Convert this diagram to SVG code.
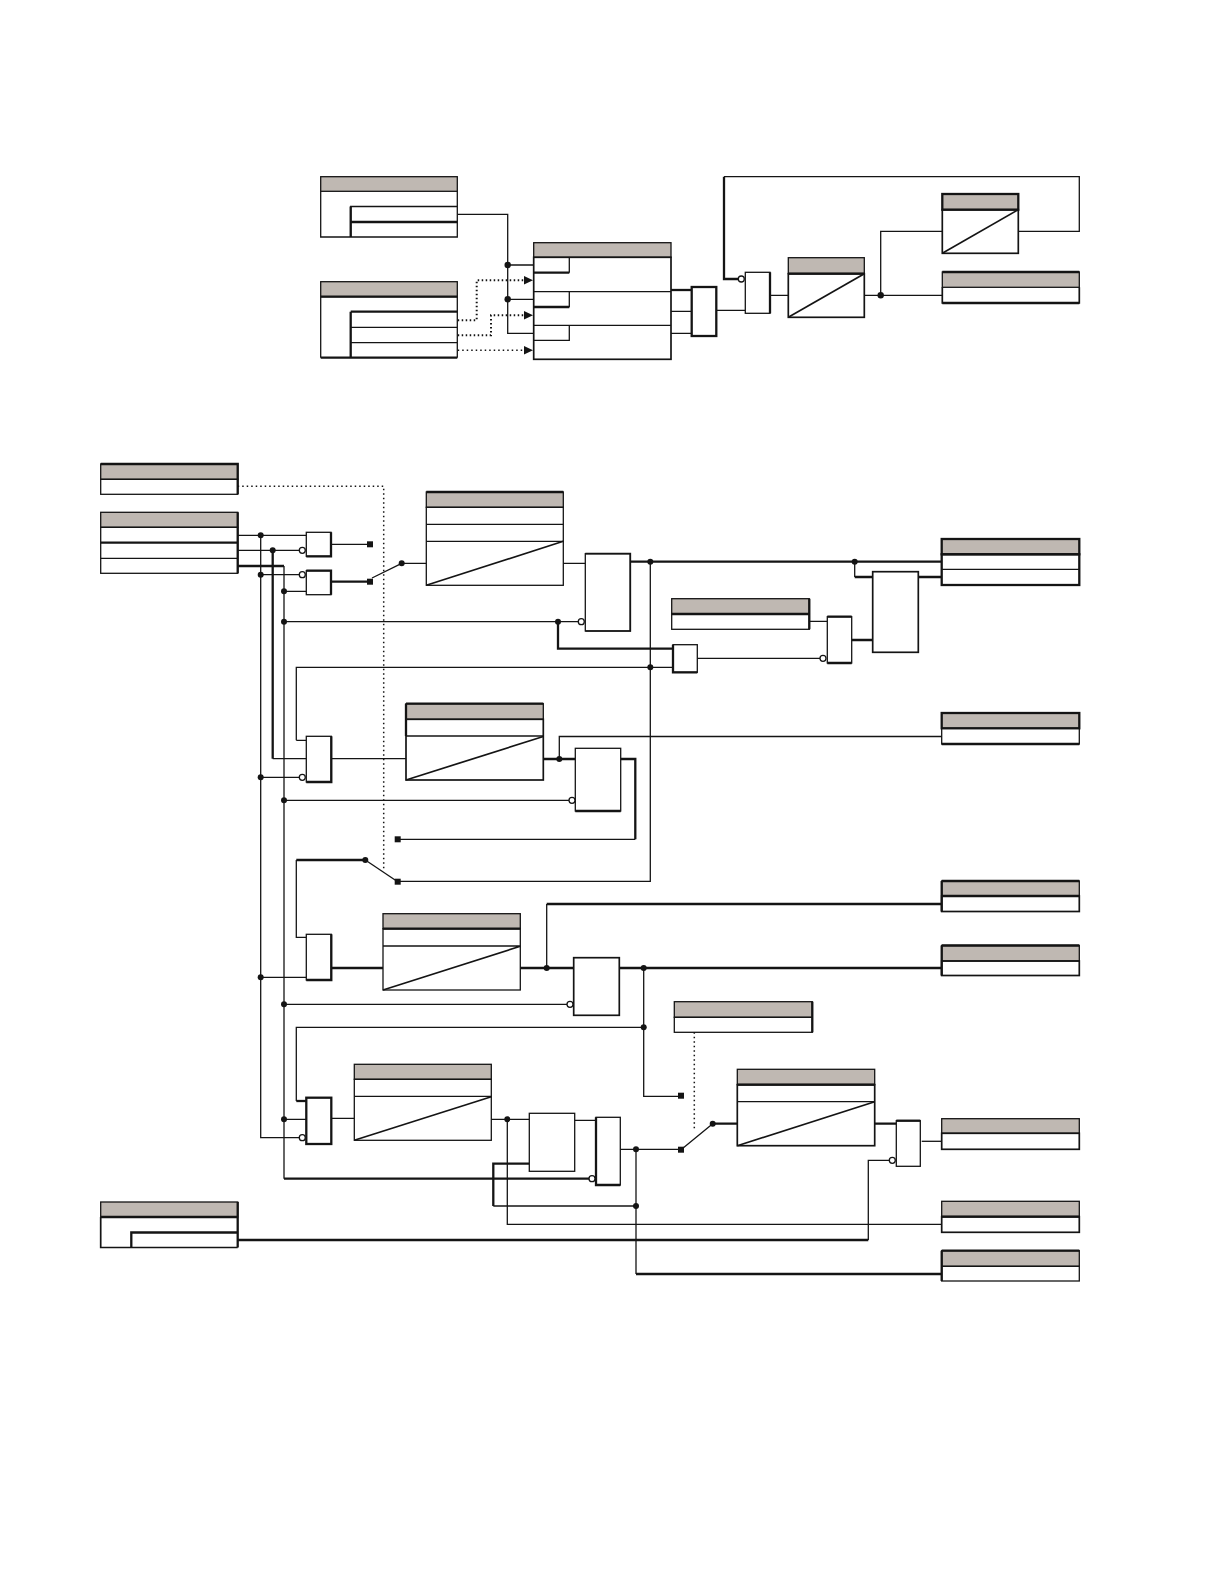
<svg xmlns="http://www.w3.org/2000/svg" width="1224" height="1584" viewBox="0 0 1224 1584">
<style>
.n rect,.n path,.c path{fill:none;stroke:#141414;stroke-width:1.3}
.n rect.b{fill:#fff}
.n rect.h{fill:#bfb8b2;stroke:#141414}
.n .k,.c .k{stroke-width:2.3}
.n .m{stroke-width:1.7}
.c .d{stroke-dasharray:1.5 3;stroke-width:1.5}
.c .e{stroke-dasharray:1.5 2.5;stroke-width:2}
.j{fill:#141414;stroke:none}
.i{fill:#fff;stroke:#141414;stroke-width:1.3}
.s{fill:#141414;stroke:none}
.c path.a{fill:#141414;stroke:none}
</style>
<rect width="1224" height="1584" fill="#fff"/>
<g id="connectors" class="c">
<path d="M457.5 214.3H507.7V333.3H533.7M507.7 265H533.7M507.7 299.3H533.7"/>
<path class="e" d="M457.7 320.3H476.7V280.3H524M457.7 335.3H491V315.3H524"/>
<path class="d" d="M457.7 350.3H524"/>
<path class="k" d="M671 290H691.7"/>
<path d="M671 311.3H691.7M671 333.3H691.7M716.3 310.3H745.3M770 295.3H788.3M864.3 295.3H942.3M880.7 295.3V231.3H942.3M1018.3 231.3H1079.3V176.7H724"/>
<path class="k" d="M724 176.7V279H738"/>
<path class="d" d="M237.7 486.3H383.7V871"/>
<path d="M237.7 535.3H306.3M237.7 550.3H299M260.7 535.3V1137.7H299M260.7 574.7H299M284 591.3H306.3M331 544.3H370M401.7 563.3H426.3M372 578L401.7 563.3M284 621.7H578M563.3 563.3H585.3"/>
<path class="k" d="M237.7 566H284"/>
<path d="M284 566V1178.7"/>
<path class="k" d="M272.7 550.3V758.7"/>
<path d="M272.7 758.7H306.3"/>
<path class="k" d="M331 581.7H370"/>
<path class="k" d="M558 621.7V648.7H673"/>
<path d="M296.3 740.3V667.3H673M296.3 740.3H306.3M697.3 658.3H820M809.3 621.3H827.3"/>
<path class="k" d="M630.3 561.7H941.7M851.7 640H872.7M854.7 577H872.7M918.3 577H941.7"/>
<path d="M854.7 561.7V577"/>
<path d="M650.3 561.7V881.3H397.7"/>
<path d="M331.3 758.7H406M260.7 777.3H299M284 800.3H569"/>
<path class="k" d="M543.3 759H575.3M620.7 759H635.3V839.3"/>
<path d="M635.3 839.3H397.7M559.3 759V736.5H941.7"/>
<path d="M397.7 881.7L365.3 860"/>
<path class="k" d="M365.3 860H296.3"/>
<path d="M296.3 860V937.3H306.3M260.7 977.3H306.3"/>
<path class="k" d="M331.3 968H383M520.3 968H573.7M619.3 968H941.7M546.7 904H941.7"/>
<path d="M546.7 968V904M284 1004.3H567M643.7 968V1096.3H681M296.3 1101V1027.3H643.7"/>
<path class="k" d="M296.3 1101H306.3"/>
<path d="M284 1119.3H306.3M331.3 1118.3H354.3M491.3 1119.3H529.3M574.7 1120.3H596M507.3 1119.3V1224.3H941.7M620.3 1149.3H681M636 1149.3V1274M681 1149.7L712.7 1123.7"/>
<path class="k" d="M284 1178.7H589M529.3 1163.7H493.3V1206"/>
<path d="M493.3 1206H636"/>
<path class="k" d="M636 1274H941.7M237.7 1240H868.3"/>
<path d="M868.3 1240V1160.3H889"/>
<path class="k" d="M712.7 1123.7H737.3M874.7 1123.7H896.3"/>
<path d="M921.7 1141.3H941.7"/>
<path class="d" d="M694.3 1032.3V1130"/>
<g>
<path class="a" d="M533 280.3L524 276V284.6ZM533 315.3L524 311V319.6ZM533 350.3L524 346V354.6Z"/>
<circle class="j" cx="507.7" cy="265" r="3.2"/><circle class="j" cx="507.7" cy="299.3" r="3.2"/><circle class="j" cx="880.7" cy="295.3" r="3.2"/>
<circle class="j" cx="260.7" cy="535.3" r="3"/><circle class="j" cx="272.7" cy="550.3" r="3"/><circle class="j" cx="260.7" cy="574.7" r="3"/><circle class="j" cx="284" cy="591.3" r="3"/><circle class="j" cx="284" cy="621.7" r="3"/><circle class="j" cx="401.7" cy="563.3" r="3"/><circle class="j" cx="558" cy="621.7" r="3"/><circle class="j" cx="650.3" cy="561.7" r="3"/><circle class="j" cx="650.3" cy="667.3" r="3"/><circle class="j" cx="854.7" cy="561.7" r="3"/>
<circle class="j" cx="260.7" cy="777.3" r="3"/><circle class="j" cx="284" cy="800.3" r="3"/><circle class="j" cx="559.3" cy="759" r="3"/><circle class="j" cx="365.3" cy="860" r="3"/>
<circle class="j" cx="260.7" cy="977.3" r="3"/><circle class="j" cx="284" cy="1004.3" r="3"/><circle class="j" cx="546.7" cy="968" r="3"/><circle class="j" cx="643.7" cy="968" r="3"/><circle class="j" cx="643.7" cy="1027.3" r="3"/>
<circle class="j" cx="284" cy="1119.3" r="3"/><circle class="j" cx="507.3" cy="1119.3" r="3"/><circle class="j" cx="636" cy="1149.3" r="3"/><circle class="j" cx="636" cy="1206" r="3"/><circle class="j" cx="712.7" cy="1123.7" r="3"/>
<rect class="s" x="367" y="541.3" width="6" height="6"/><rect class="s" x="367" y="578.7" width="6" height="6"/><rect class="s" x="394.7" y="836.3" width="6" height="6"/><rect class="s" x="394.7" y="878.7" width="6" height="6"/><rect class="s" x="678" y="1092.7" width="6" height="6"/><rect class="s" x="678" y="1146.7" width="6" height="6"/>
</g>
</g>
<g id="n1" class="n"><rect class="h" x="320.7" y="176.7" width="136.6" height="14.6"/><path d="M320.7 191.3V237H457.3V191.3"/><path d="M350.7 237V206.5H457.3"/><path class="k" d="M350.7 206.5V237M350.7 222H457.3"/></g>
<g id="n2" class="n"><rect class="h" x="320.7" y="281.7" width="136.6" height="15"/><path d="M320.7 296.7V357.7M457.3 296.7V357.7M350.7 327.3H457.3M350.7 342.7H457.3"/><path class="k" d="M320.7 296.7H457.3M350.7 311.7H457.3M350.7 311.7V357.7M320.7 357.7H457.3"/></g>
<g id="n3" class="n"><rect class="h" x="533.7" y="242.7" width="137.3" height="14.6"/><rect x="533.7" y="257.3" width="137.3" height="102" class="m"/><path d="M533.7 291.7H671M533.7 325.3H671M569.3 257.3V272.7M569.3 291.7V307M533.7 307H569.3M569.3 325.3V340.3H533.7"/><path class="k" d="M533.7 272.7H569.3M533.7 307H569.3"/></g>
<g id="n4" class="n"><rect class="b k" x="691.7" y="287" width="24.6" height="49"/></g>
<g id="n5" class="n"><rect class="b" x="745.3" y="272.3" width="24.7" height="41"/><path class="k" d="M770 272.3V313.3"/><circle class="i" cx="741.3" cy="279" r="3"/></g>
<g id="n6" class="n"><rect class="h" x="788.3" y="257.7" width="76" height="16"/><rect x="788.3" y="273.7" width="76" height="43.6" class="m"/><path class="k" d="M788.3 273.7H864.3"/><path class="m" d="M788.3 317.3L864.3 273.7"/></g>
<g id="n7" class="n"><rect class="h k" x="942.3" y="194" width="76" height="15.7"/><rect x="942.3" y="209.7" width="76" height="43.6" class="m"/><path class="m" d="M942.3 253.3L1018.3 209.7"/></g>
<g id="n8" class="n"><rect class="h" x="942.3" y="272" width="137" height="15.3"/><path class="k" d="M942.3 272H1079.3"/><path class="m" d="M942.3 287.3V303H1079.3V287.3"/><path class="k" d="M942.3 303H1079.3"/></g>
<g id="n9" class="n"><rect class="h" x="100.7" y="464" width="137" height="15.3"/><path class="k" d="M100.7 464H237.7V494.3"/><rect x="100.7" y="479.3" width="137" height="15"/></g>
<g id="n10" class="n"><rect class="h" x="100.7" y="512.3" width="137" height="15"/><rect x="100.7" y="527.3" width="137" height="46"/><path d="M100.7 558.3H237.7"/><path class="k" d="M100.7 542.7H237.7M237.7 512.3V573.3"/></g>
<g id="n11" class="n"><rect class="b" x="306.3" y="532.3" width="24.7" height="24"/><path class="k" d="M306.3 556.3H331V532.3"/><circle class="i" cx="302.3" cy="550.3" r="3"/></g>
<g id="n12" class="n"><rect class="b" x="306.3" y="570.7" width="24.7" height="24"/><path class="k" d="M306.3 570.7H331V594.7"/><circle class="i" cx="302.3" cy="574.7" r="3"/></g>
<g id="n13" class="n"><rect class="h" x="426.3" y="492" width="137" height="15.3"/><path class="k" d="M426.3 492H563.3"/><rect x="426.3" y="507.3" width="137" height="78"/><path d="M426.3 524.3H563.3M426.3 541.3H563.3"/><path class="m" d="M426.3 585.3L563.3 541.3"/></g>
<g id="n14" class="n"><rect class="b" x="585.3" y="553.7" width="45" height="77.3"/><path class="m" d="M585.3 553.7H630.3V631H585.3"/><circle class="i" cx="581.3" cy="621.7" r="3"/></g>
<g id="n15" class="n"><rect class="b" x="673" y="644.7" width="24.3" height="27.6"/><path class="k" d="M673 644.7V672.3H697.3"/></g>
<g id="n16" class="n"><rect class="h" x="671.7" y="598.7" width="137.6" height="15.3"/><rect x="671.7" y="614" width="137.6" height="15.3"/><path class="k" d="M671.7 614H809.3M809.3 598.7V629.3"/></g>
<g id="n17" class="n"><rect class="b" x="827.3" y="616.7" width="24.4" height="46.3"/><path class="k" d="M827.3 616.7H851.7M827.3 663H851.7"/><circle class="i" cx="823" cy="658.3" r="3"/></g>
<g id="n18" class="n"><rect class="b m" x="872.7" y="571.7" width="45.6" height="80.6"/></g>
<g id="n19" class="n"><rect class="h k" x="941.7" y="539" width="137.6" height="15.3"/><rect class="k" x="941.7" y="554.3" width="137.6" height="30.7"/><path d="M941.7 569.3H1079.3"/><path d="M941.7 554.3H1079.3"/></g>
<g id="n20" class="n"><rect class="h k" x="941.7" y="713" width="137.6" height="15.3"/><rect x="941.7" y="728.3" width="137.6" height="15.7"/><path class="k" d="M941.7 744H1079.3"/></g>
<g id="n21" class="n"><rect class="h" x="406" y="703.7" width="137.3" height="15.6"/><path class="k" d="M406 703.7H543.3M406 703.7V736"/><rect x="406" y="719.3" width="137.3" height="60.7" class="m"/><path d="M406 736H543.3"/><path class="m" d="M406 780L543.3 736.5"/></g>
<g id="n22" class="n"><rect class="b" x="306.3" y="736.3" width="25" height="45.7"/><path class="k" d="M331.3 736.3V782H306.3"/><circle class="i" cx="302.3" cy="777.3" r="3"/></g>
<g id="n23" class="n"><rect class="b" x="575.3" y="748.3" width="45.4" height="62.7"/><path class="k" d="M575.3 811H620.7"/><circle class="i" cx="572" cy="800.3" r="3"/></g>
<g id="n24" class="n"><rect class="b" x="306.3" y="934.3" width="25" height="45.7"/><path class="k" d="M331.3 934.3V980H306.3"/></g>
<g id="n25" class="n"><rect class="h" x="383" y="913.7" width="137.3" height="15"/><rect x="383" y="928.7" width="137.3" height="61.3"/><path class="k" d="M383 928.7H520.3"/><path class="m" d="M383 946H520.3M383 990L520.3 946.3"/></g>
<g id="n26" class="n"><rect class="b m" x="573.7" y="957.7" width="45.6" height="57.6"/><circle class="i" cx="570" cy="1004.3" r="3"/></g>
<g id="n27" class="n"><rect class="h" x="941.7" y="881" width="137.6" height="15"/><rect class="m" x="941.7" y="896" width="137.6" height="15.5"/><path class="k" d="M941.7 881H1079.3M941.7 896H1079.3M941.7 881V911.5"/></g>
<g id="n28" class="n"><rect class="h" x="941.7" y="945.5" width="137.6" height="15.5"/><rect class="m" x="941.7" y="961" width="137.6" height="14.5"/><path class="k" d="M941.7 945.5H1079.3M941.7 945.5V975.5"/></g>
<g id="n29" class="n"><rect class="h" x="674.3" y="1001.7" width="138" height="15.6"/><rect x="674.3" y="1017.3" width="138" height="15"/><path class="k" d="M812.3 1001.7V1032.3"/></g>
<g id="n30" class="n"><rect class="b k" x="306.3" y="1097.7" width="25" height="46.3"/><circle class="i" cx="302.3" cy="1137.7" r="3"/></g>
<g id="n31" class="n"><rect class="h" x="354.3" y="1064.3" width="137" height="15"/><rect x="354.3" y="1079.3" width="137" height="61"/><path d="M354.3 1096.3H491.3"/><path class="m" d="M354.3 1140.3L491.3 1096.8"/></g>
<g id="n32" class="n"><rect class="b" x="529.3" y="1113.3" width="45.4" height="58"/></g>
<g id="n33" class="n"><rect class="b" x="596" y="1117.3" width="24.3" height="67.7"/><path class="k" d="M596 1117.3V1185H620.3"/><circle class="i" cx="592" cy="1178.7" r="3"/></g>
<g id="n34" class="n"><rect class="h" x="737.3" y="1069.3" width="137.4" height="15.4"/><rect x="737.3" y="1084.7" width="137.4" height="61" class="m"/><path class="k" d="M737.3 1084.7H874.7"/><path d="M737.3 1101.7H874.7"/><path class="m" d="M737.3 1145.7L874.7 1101.7"/></g>
<g id="n35" class="n"><rect class="b" x="896.3" y="1120.7" width="24" height="45.6"/><path class="k" d="M896.3 1120.7H920.3"/><circle class="i" cx="892.3" cy="1160.3" r="3"/></g>
<g id="n36" class="n"><rect class="h" x="941.7" y="1118.7" width="137.6" height="14.6"/><rect x="941.7" y="1133.3" width="137.6" height="16" class="m"/></g>
<g id="n37" class="n"><rect class="h" x="941.7" y="1201.3" width="137.6" height="15.4"/><rect x="941.7" y="1216.7" width="137.6" height="15.6" class="m"/><path class="k" d="M941.7 1216.7H1079.3"/></g>
<g id="n38" class="n"><rect class="h" x="941.7" y="1250.7" width="137.6" height="15.6"/><path class="k" d="M941.7 1250.7H1079.3M941.7 1250.7V1281"/><rect x="941.7" y="1266.3" width="137.6" height="14.7"/></g>
<g id="n39" class="n"><rect class="h" x="100.7" y="1202" width="137" height="15"/><path class="k" d="M100.7 1217H237.7M237.7 1202V1247.5"/><path class="m" d="M100.7 1217V1247.5H237.7"/><path class="k" d="M131.3 1247.5V1232.5H237.7"/></g>
</svg>
